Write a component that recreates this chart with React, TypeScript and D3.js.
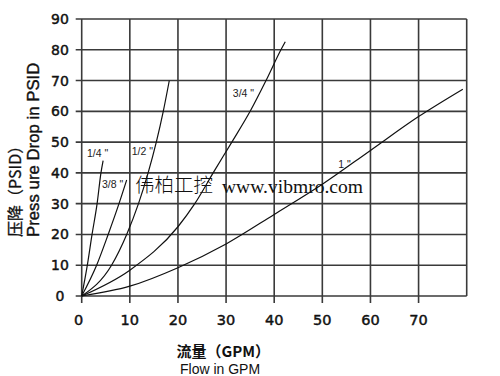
import React from "react";
import * as d3 from "d3";

const xTicks = [0, 10, 20, 30, 40, 50, 60, 70];
const xGrid = [0, 10, 20, 30, 40, 50, 60, 70, 80];
const yTicks = [0, 10, 20, 30, 40, 50, 60, 70, 80, 90];

// [flow GPM, pressure drop PSID]
const curve14: [number, number][] = [[0, 0], [1.17, 10], [2.15, 20], [3.2, 30], [4.0, 40], [4.45, 44]];
const curve38: [number, number][] = [[0, 0], [3.1, 10], [5.5, 20], [7.75, 30], [9.35, 37.7]];
const curve12: [number, number][] = [[0, 0], [6.2, 10], [9.35, 20], [11.8, 30], [13.8, 40], [15.5, 50], [16.95, 60], [18.2, 70]];
const curve34: [number, number][] = [[0, 0], [10, 8.4], [20, 22.5], [23.5, 30], [27.5, 40.5], [31.2, 50], [35, 60], [38.3, 70], [41.4, 80], [42.3, 82.6]];
const curve1: [number, number][] = [[0, 0], [10, 3.2], [20, 9.2], [30, 16.9], [40, 26.5], [50, 36.3], [60, 47.3], [70, 58.3], [79.2, 67.2]];

const curves = [curve14, curve38, curve12, curve34, curve1];
const curveLabels = ['1/4 "', '3/8 "', '1/2 "', '3/4 "', '1 "'];
// label anchor in data units (x, y)
const labelPos: [number, number][] = [[1.1, 45.3], [4.2, 35.2], [10.4, 45.9], [31.4, 64.6], [53.3, 41.6]];

export default function App() {
  const x = d3.scaleLinear().domain([0, 80]).range([81.7, 466.7]);
  const y = d3.scaleLinear().domain([0, 90]).range([296, 19]);
  const line = d3
    .line<[number, number]>()
    .x((d) => x(d[0]))
    .y((d) => y(d[1]))
    .curve(d3.curveMonotoneX);

  const gridColor = "#3a3a3a";
  const tickFont = "'DejaVu Sans', sans-serif";
  const sans = "'Liberation Sans', Arial, sans-serif";
  const cjk = "'Noto Sans CJK SC', 'Liberation Sans', sans-serif";

  return (
    <svg
      width={500}
      height={376}
      style={{ position: "absolute", left: 0, top: 0, background: "#fff" }}
    >
      <rect x={0} y={0} width={500} height={376} fill="#fff" />
      {/* vertical grid lines */}
      {xGrid.map((v) => (
        <line
          key={"vx" + v}
          x1={x(v)}
          x2={x(v)}
          y1={y(90)}
          y2={v === 80 ? y(0) : y(0) + 7}
          stroke={gridColor}
          strokeWidth={1.6}
        />
      ))}
      {/* horizontal grid lines */}
      {yTicks.map((v) => (
        <line
          key={"hy" + v}
          x1={x(0) - 6}
          x2={x(80)}
          y1={y(v)}
          y2={y(v)}
          stroke={gridColor}
          strokeWidth={1.6}
        />
      ))}
      {/* curves */}
      {curves.map((c, i) => (
        <path key={"c" + i} d={line(c) || ""} fill="none" stroke="#111" strokeWidth={1.2} />
      ))}
      {/* curve labels */}
      {curveLabels.map((t, i) => (
        <text
          key={"l" + i}
          x={x(labelPos[i][0])}
          y={y(labelPos[i][1])}
          fontFamily={sans}
          fontSize={10.5}
          fill="#222"
        >
          {t}
        </text>
      ))}
      {/* y tick labels */}
      {yTicks.map((v) => (
        <text
          key={"ty" + v}
          x={60}
          y={y(v) + 5}
          textAnchor="middle"
          fontFamily={tickFont}
          fontSize={14}
          fill="#111"
          stroke="#111"
          strokeWidth={0.45}
        >
          {v}
        </text>
      ))}
      {/* x tick labels */}
      {xTicks.map((v) => (
        <text
          key={"tx" + v}
          x={x(v) - (v === 0 ? 3 : 0)}
          y={325}
          textAnchor="middle"
          fontFamily={tickFont}
          fontSize={14.5}
          fill="#111"
          stroke="#111"
          strokeWidth={0.45}
        >
          {v}
        </text>
      ))}
      {/* watermark */}
      <text x={135} y={192} fontFamily={cjk} fontSize={19.5} fontWeight={300} fill="#111">
        伟柏工控
      </text>
      <text
        x={222}
        y={193}
        fontFamily="'Liberation Serif', serif"
        fontSize={19}
        textLength={141}
        lengthAdjust="spacingAndGlyphs"
        fill="#111"
      >
        www.vibmro.com
      </text>
      {/* y axis titles */}
      <text
        transform="translate(20.5,237) rotate(-90)"
        fontFamily={cjk}
        fontSize={16}
        fill="#111"
        stroke="#111"
        strokeWidth={0.3}
      >
        压降（PSID）
      </text>
      <text
        transform="translate(38.5,237) rotate(-90)"
        fontFamily={sans}
        fontSize={16.8}
        fill="#111"
        stroke="#111"
        strokeWidth={0.4}
      >
        Press ure Drop in PSID
      </text>
      {/* x axis titles */}
      <text x={176.5} y={357} fontFamily={cjk} fontSize={15} fontWeight={700} fill="#111">
        流量（GPM）
      </text>
      <text x={180} y={373.5} fontFamily={sans} fontSize={14} fill="#111">
        Flow in GPM
      </text>
    </svg>
  );
}
